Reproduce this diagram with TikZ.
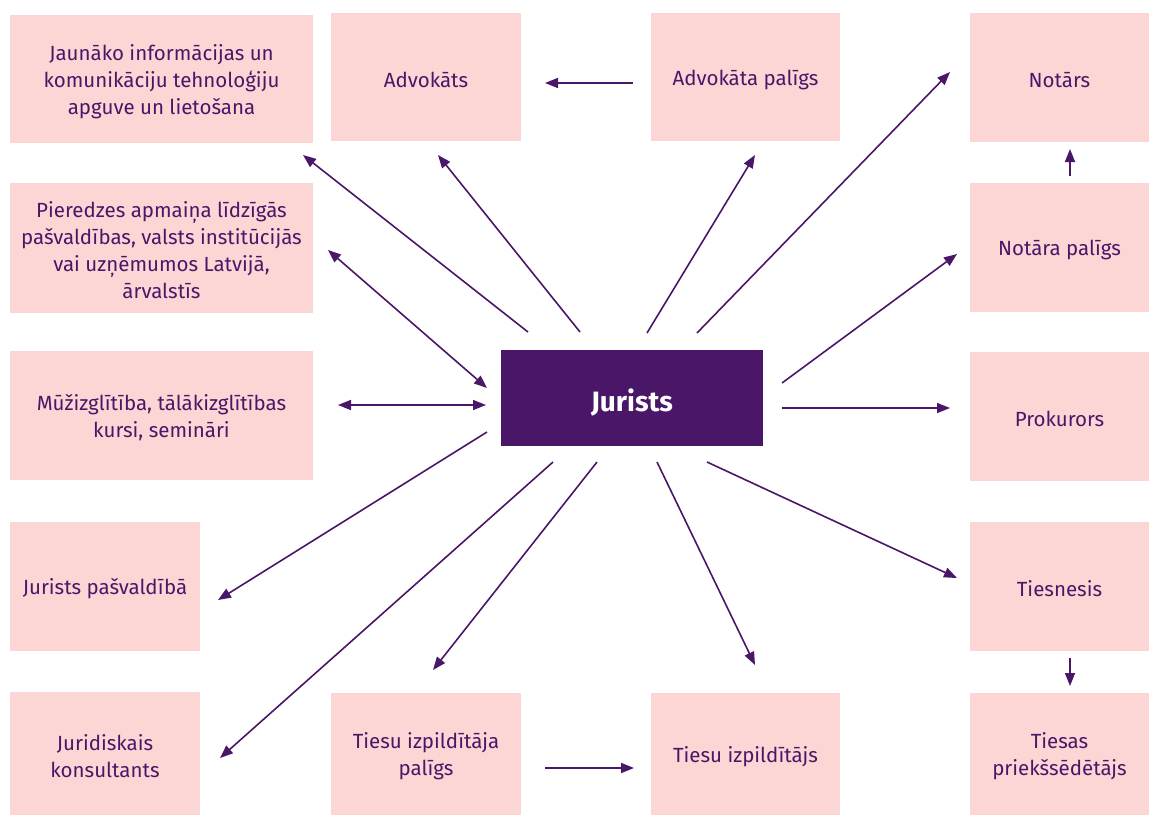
\documentclass[tikz,border=0pt]{standalone}
\usepackage{fontspec}
\setmainfont{Fira Sans}
\usetikzlibrary{arrows.meta}
\definecolor{boxpink}{HTML}{FCD5D5}
\definecolor{jpurple}{HTML}{4A1768}
\tikzset{
  box/.style={fill=boxpink, draw=none, inner sep=0pt},
  boxtext/.style={inner sep=0pt, align=center, text=jpurple, font=\fontsize{20.5}{27}\selectfont, yshift=-2.5pt},
  mainbox/.style={fill=jpurple, draw=none, inner sep=0pt},
  maintext/.style={inner sep=0pt, align=center, text=white, font=\fontsize{28}{32}\selectfont\bfseries, yshift=-5pt},
  arr/.style={draw=jpurple, line width=1.6pt, -{Triangle[length=13pt,width=10pt]}},
  darr/.style={draw=jpurple, line width=1.6pt, {Triangle[length=13pt,width=10pt]}-{Triangle[length=13pt,width=10pt]}}
}
\newcommand{\bx}[8]{\node[#1, minimum width={(#5)-(#3)}, minimum height={(#6)-(#4)}] (#2) at ({((#3)+(#5))/2},{((#4)+(#6))/2}) {};
\node[#7] (#2t) at (#2.center) {#8};}
\begin{document}
\begin{tikzpicture}[x=1pt,y=-1pt]
\useasboundingbox (0,0) rectangle (1149,815);
\fill[white] (0,0) rectangle (1149,815);
% boxes
\bx{box}{info}{10}{15}{313}{143}{boxtext}{Jaunāko informācijas un\\komunikāciju tehnoloģiju\\apguve un lietošana}
\bx{box}{adv}{331}{13}{521}{141}{boxtext}{Advokāts}
\bx{box}{advp}{651}{13}{840}{141}{boxtext}{Advokāta palīgs}
\bx{box}{not}{970}{13}{1149}{142}{boxtext}{Notārs}
\bx{box}{pier}{10}{183}{313}{313}{boxtext}{Pieredzes apmaiņa līdzīgās\\pašvaldības, valsts institūcijās\\vai uzņēmumos Latvijā,\\ārvalstīs}
\bx{box}{notp}{970}{183}{1149}{312}{boxtext}{Notāra palīgs}
\bx{box}{muz}{10}{351}{313}{480}{boxtext}{Mūžizglītība, tālākizglītības\\kursi, semināri}
\bx{mainbox}{jur}{501}{350}{763}{446}{maintext}{Jurists}
\bx{box}{prok}{970}{352}{1149}{481}{boxtext}{Prokurors}
\bx{box}{jpas}{10}{522}{200}{651}{boxtext}{Jurists pašvaldībā}
\bx{box}{ties}{970}{522}{1149}{651}{boxtext}{Tiesnesis}
\bx{box}{jkon}{10}{692}{200}{815}{boxtext}{Juridiskais\\konsultants}
\bx{box}{tip}{331}{693}{521}{815}{boxtext}{Tiesu izpildītāja\\palīgs}
\bx{box}{ti}{651}{693}{840}{815}{boxtext}{Tiesu izpildītājs}
\bx{box}{tpr}{970}{693}{1149}{815}{boxtext}{Tiesas\\priekšsēdētājs}
% arrow endpoints
\coordinate (a1s) at (528,332); \coordinate (a1e) at (303,155);
\coordinate (a2s) at (580,332); \coordinate (a2e) at (438,155);
\coordinate (a3s) at (633,83);  \coordinate (a3e) at (545,83);
\coordinate (a4s) at (647,333); \coordinate (a4e) at (755,155);
\coordinate (a5s) at (697,333); \coordinate (a5e) at (950,72);
\coordinate (a6s) at (1070,176); \coordinate (a6e) at (1070,149);
\coordinate (a7s) at (782,383); \coordinate (a7e) at (957,254);
\coordinate (a8s) at (782,408); \coordinate (a8e) at (950,408);
\coordinate (a9s) at (707,462); \coordinate (a9e) at (957,578);
\coordinate (a10s) at (1070,658); \coordinate (a10e) at (1070,686);
\coordinate (a11s) at (657,462); \coordinate (a11e) at (755,665);
\coordinate (a12s) at (597,462); \coordinate (a12e) at (433,670);
\coordinate (a13s) at (553,462); \coordinate (a13e) at (220,758);
\coordinate (a14s) at (487,432); \coordinate (a14e) at (218,600);
\coordinate (a15s) at (545,768); \coordinate (a15e) at (634,768);
\coordinate (a16s) at (328,250); \coordinate (a16e) at (487,388);
\coordinate (a17s) at (338,405); \coordinate (a17e) at (486,405);
\foreach \i in {1,...,15} {\draw[arr] (a\i s) -- (a\i e);}
\draw[darr] (a16s) -- (a16e);
\draw[darr] (a17s) -- (a17e);
\end{tikzpicture}
\end{document}
